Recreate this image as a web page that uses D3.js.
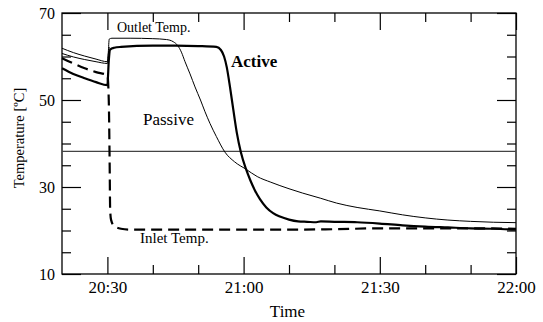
<!DOCTYPE html>
<html>
<head>
<meta charset="utf-8">
<script src="https://cdn.jsdelivr.net/npm/d3@7"></script>
<style>
  body { margin: 0; background: #fff; }
  svg text { font-family: "Liberation Serif", "DejaVu Serif", Times, serif !important; fill: #000; }
</style>
</head>
<body>
<div id="chart"></div>
<script>
// minutes after 20:00 and temperature (degC)
const activeTime = [20, 22.5, 25, 27.5, 30, 30.3, 30.6, 31.5, 33, 40, 45, 50, 54, 55, 55.7, 56.3, 57, 57.7, 58.5, 59.4, 60.5, 61.5, 62.5, 63.6, 65, 66.5, 68, 70, 72, 74, 76, 77, 80, 85, 90, 95, 100, 105, 110, 115, 120];
const activeTemp = [57.3, 56.0, 55.0, 54.1, 53.4, 59.0, 61.6, 62.0, 62.2, 62.5, 62.5, 62.4, 62.2, 61.5, 60.0, 57.5, 53.0, 48.0, 42.5, 38.0, 34.2, 31.5, 29.2, 27.2, 25.3, 24.0, 23.2, 22.5, 22.1, 22.0, 21.9, 22.1, 22.0, 21.9, 21.6, 21.2, 20.9, 20.7, 20.5, 20.4, 20.2];

const inletTime = [20, 22.5, 25, 27.5, 30, 30.3, 30.5, 30.6, 30.8, 31.5, 33, 35, 45, 60, 70, 80, 90, 100, 110, 120];
const inletTemp = [59.6, 58.4, 57.3, 56.4, 55.7, 50, 35, 25, 22.5, 21.0, 20.4, 20.2, 20.2, 20.2, 20.2, 20.3, 20.5, 20.5, 20.5, 20.4];

const passiveTime = [20, 22.5, 25, 27.5, 30, 30.2, 30.4, 31, 35, 40, 43, 44.5, 45.5, 46.3, 47.1, 48.2, 49.3, 50.5, 51.5, 52.6, 54, 55.9, 58, 60.5, 63, 66, 70, 73, 77, 80.5, 85, 90, 95, 100, 105, 110, 115, 120];
const passiveTemp = [61.9, 60.9, 60.1, 59.4, 58.8, 61.0, 64.0, 64.2, 64.2, 64.1, 63.9, 63.4, 62.5, 61.0, 58.8, 56.0, 53.0, 50.0, 47.3, 44.6, 41.6, 38.0, 35.8, 34.1, 32.4, 31.1, 29.6, 28.6, 27.4, 26.3, 25.3, 24.5, 23.6, 22.9, 22.4, 22.1, 21.9, 21.8];

const secondTime = [20, 22.5, 25, 27.5, 30, 30.2, 30.4];
const secondTemp = [60.7, 59.9, 59.3, 58.8, 58.4, 60.5, 62.2];

const refTemp = 38.2;

const yMajor = [10, 30, 50, 70];
const yMinor = [15, 20, 25, 35, 40, 45, 55, 60, 65];
const xMajor = [30, 60, 90, 120];   // 20:30, 21:00, 21:30, 22:00
const xMinor = [40, 50, 70, 80, 100, 110];

const serif = '"Liberation Serif", "DejaVu Serif", Times, serif';

const margin = { top: 13, right: 27, bottom: 48, left: 62 };
const width = 543 - margin.left - margin.right;
const height = 322 - margin.top - margin.bottom;

const base = new Date(2000, 0, 1, 20, 0).getTime();
const toDate = m => new Date(base + m * 60000);

const svg = d3.select("#chart")
    .append("svg")
    .attr("width", 543)
    .attr("height", 322)
    .attr("font-family", serif)
    .append("g")
    .attr("transform", `translate(${margin.left},${margin.top})`);

const x = d3.scaleTime()
    .domain([toDate(20), toDate(120)])
    .range([0, width]);

const y = d3.scaleLinear()
    .domain([10, 70])
    .range([height, 0]);

// axes: ticks point inward on all four sides
function styleAxis(g) {
    g.attr("font-family", serif);
    g.select(".domain").remove();
    g.selectAll(".tick line").attr("stroke", "#000").attr("stroke-width", 1.2);
}

svg.append("g")
    .call(d3.axisLeft(y).tickValues(yMajor).tickSize(-19).tickPadding(7))
    .call(styleAxis)
    .selectAll("text").style("font-size", "16px");
svg.append("g")
    .call(d3.axisLeft(y).tickValues(yMinor).tickSize(-9).tickFormat(""))
    .call(styleAxis);
svg.append("g")
    .attr("transform", `translate(${width},0)`)
    .call(d3.axisRight(y).tickValues(yMajor).tickSize(-19).tickFormat(""))
    .call(styleAxis);
svg.append("g")
    .attr("transform", `translate(${width},0)`)
    .call(d3.axisRight(y).tickValues(yMinor).tickSize(-9).tickFormat(""))
    .call(styleAxis);

svg.append("g")
    .attr("transform", `translate(0,${height})`)
    .call(d3.axisBottom(x).tickValues(xMajor.map(toDate)).tickSize(-17).tickPadding(7)
        .tickFormat(d3.timeFormat("%H:%M")))
    .call(styleAxis)
    .selectAll("text").style("font-size", "17px");
svg.append("g")
    .attr("transform", `translate(0,${height})`)
    .call(d3.axisBottom(x).tickValues(xMinor.map(toDate)).tickSize(-9).tickFormat(""))
    .call(styleAxis);
svg.append("g")
    .call(d3.axisTop(x).tickValues(xMajor.map(toDate)).tickSize(-17).tickFormat(""))
    .call(styleAxis);
svg.append("g")
    .call(d3.axisTop(x).tickValues(xMinor.map(toDate)).tickSize(-9).tickFormat(""))
    .call(styleAxis);

// frame
svg.append("rect")
    .attr("width", width)
    .attr("height", height)
    .attr("fill", "none")
    .attr("stroke", "#000")
    .attr("stroke-width", 1.3);

// reference line
svg.append("line")
    .attr("x1", 0)
    .attr("x2", width)
    .attr("y1", y(refTemp))
    .attr("y2", y(refTemp))
    .attr("stroke", "#444")
    .attr("stroke-width", 1.4);

const line = d3.line()
    .x(d => x(toDate(d[0])))
    .y(d => y(d[1]))
    .curve(d3.curveMonotoneX);

const zip = (a, b) => a.map((t, i) => [t, b[i]]);

svg.append("path")
    .datum(zip(secondTime, secondTemp))
    .attr("d", line)
    .attr("fill", "none")
    .attr("stroke", "#000")
    .attr("stroke-width", 1);

svg.append("path")
    .datum(zip(passiveTime, passiveTemp))
    .attr("d", line)
    .attr("fill", "none")
    .attr("stroke", "#000")
    .attr("stroke-width", 1);

svg.append("path")
    .datum(zip(inletTime, inletTemp))
    .attr("d", line)
    .attr("fill", "none")
    .attr("stroke", "#000")
    .attr("stroke-width", 2.2)
    .attr("stroke-dasharray", "11,6");

svg.append("path")
    .datum(zip(activeTime, activeTemp))
    .attr("d", line)
    .attr("fill", "none")
    .attr("stroke", "#000")
    .attr("stroke-width", 2.2);

// annotations
svg.append("text")
    .attr("x", 117 - margin.left)
    .attr("y", 32 - margin.top)
    .style("font-size", "14px")
    .text("Outlet Temp.");

svg.append("text")
    .attr("x", 231 - margin.left)
    .attr("y", 67 - margin.top)
    .style("font-size", "17px")
    .style("font-weight", "bold")
    .text("Active");

svg.append("text")
    .attr("x", 143 - margin.left)
    .attr("y", 124.5 - margin.top)
    .style("font-size", "17px")
    .text("Passive");

svg.append("text")
    .attr("x", 140 - margin.left)
    .attr("y", 242.5 - margin.top)
    .style("font-size", "15px")
    .text("Inlet Temp.");

// axis labels
svg.append("text")
    .attr("text-anchor", "middle")
    .attr("x", 287.5 - margin.left)
    .attr("y", 317 - margin.top)
    .style("font-size", "17px")
    .text("Time");

svg.append("text")
    .attr("text-anchor", "middle")
    .attr("transform", `translate(${24 - margin.left},${138 - margin.top}) rotate(-90)`)
    .style("font-size", "14.5px")
    .text("Temperature [ºC]");
</script>
</body>
</html>
